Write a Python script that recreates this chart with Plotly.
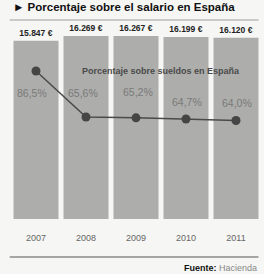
import plotly.graph_objects as go

years = [2007, 2008, 2009, 2010, 2011]
year_labels = ["2007", "2008", "2009", "2010", "2011"]
salary = [15847, 16269, 16267, 16199, 16120]
salary_labels = ["15.847 €", "16.269 €", "16.267 €", "16.199 €", "16.120 €"]
percent = [86.5, 65.6, 65.2, 64.7, 64.0]
percent_labels = ["86,5%", "65,6%", "65,2%", "64,7%", "64,0%"]

title_text = "► Porcentaje sobre el salario en España"
legend_text = "Porcentaje sobre sueldos en España"

FONT = "Liberation Sans Narrow, Arial Narrow, Liberation Sans, Arial, sans-serif"
BG = "#f6f6f4"

fig = go.Figure()
fig.add_trace(go.Bar(
    x=years, y=salary, marker_color="#adadab", marker_line_width=0,
    text=["<b>" + t + "</b>" for t in salary_labels], textposition="outside",
    textfont=dict(family=FONT, size=8.5, color="#222222"),
    cliponaxis=False, showlegend=False, width=0.9, hoverinfo="skip",
))
fig.add_trace(go.Scatter(
    x=years, y=percent, yaxis="y2", mode="lines+markers",
    line=dict(color="#4a4a4a", width=1.5),
    marker=dict(size=9, color="#454545"),
    showlegend=False, cliponaxis=False, hoverinfo="skip",
))

shifts = [-22, 24, 26, 17, 17]
xshifts = [-4, -3, 2, 1, 1]
annotations = []
for yr, p, lab, s, xs in zip(years, percent, percent_labels, shifts, xshifts):
    annotations.append(dict(x=yr, y=p, xref="x", yref="y2", text=lab, showarrow=False,
                            yshift=s, xshift=xs,
                            font=dict(family=FONT, size=10.5, color="#7a7a7a")))
annotations.append(dict(x=0.0, y=1, xref="paper", yref="paper", xanchor="left", yanchor="bottom",
                        xshift=0, yshift=5, text="<b>" + title_text + "</b>", showarrow=False,
                        font=dict(family=FONT, size=11.5, color="#111111")))
annotations.append(dict(x=0.6, y=0.78, xref="paper", yref="paper", text="<b>" + legend_text + "</b>",
                        showarrow=False, font=dict(family=FONT, size=9, color="#4a4a4a")))
annotations.append(dict(x=0.99, y=0, xref="paper", yref="paper", xanchor="right", yanchor="middle",
                        yshift=-49, text="<b>Fuente:</b> <span style='color:#888'>Hacienda</span>",
                        showarrow=False, font=dict(family=FONT, size=9, color="#111111")))

fig.update_layout(
    width=264, height=274,
    margin=dict(l=11, r=3, t=20, b=55),
    paper_bgcolor=BG, plot_bgcolor=BG,
    hovermode=False,
    xaxis=dict(range=[min(years) - 0.5, max(years) + 0.5], tickvals=years, ticktext=year_labels,
               showgrid=False, zeroline=False, showline=False,
               ticks="outside", ticklen=10, tickcolor="rgba(0,0,0,0)",
               tickfont=dict(family=FONT, size=9, color="#666666")),
    yaxis=dict(range=[0, 17700], visible=False),
    yaxis2=dict(range=[19.2, 109.7], overlaying="y", visible=False),
    annotations=annotations,
    shapes=[
        dict(type="line", xref="paper", yref="paper", x0=-0.005, x1=0.99, y0=1, y1=1,
             line=dict(color="#bbbbbb", width=1.5)),
        dict(type="line", xref="paper", yref="paper", x0=-0.005, x1=0.99, y0=-0.191, y1=-0.191,
             line=dict(color="#555555", width=1.2)),
    ],
)

fig.write_html("out.html", config={"displayModeBar": False},
               post_script="document.body.style.margin='0';document.body.style.overflow='hidden';")
